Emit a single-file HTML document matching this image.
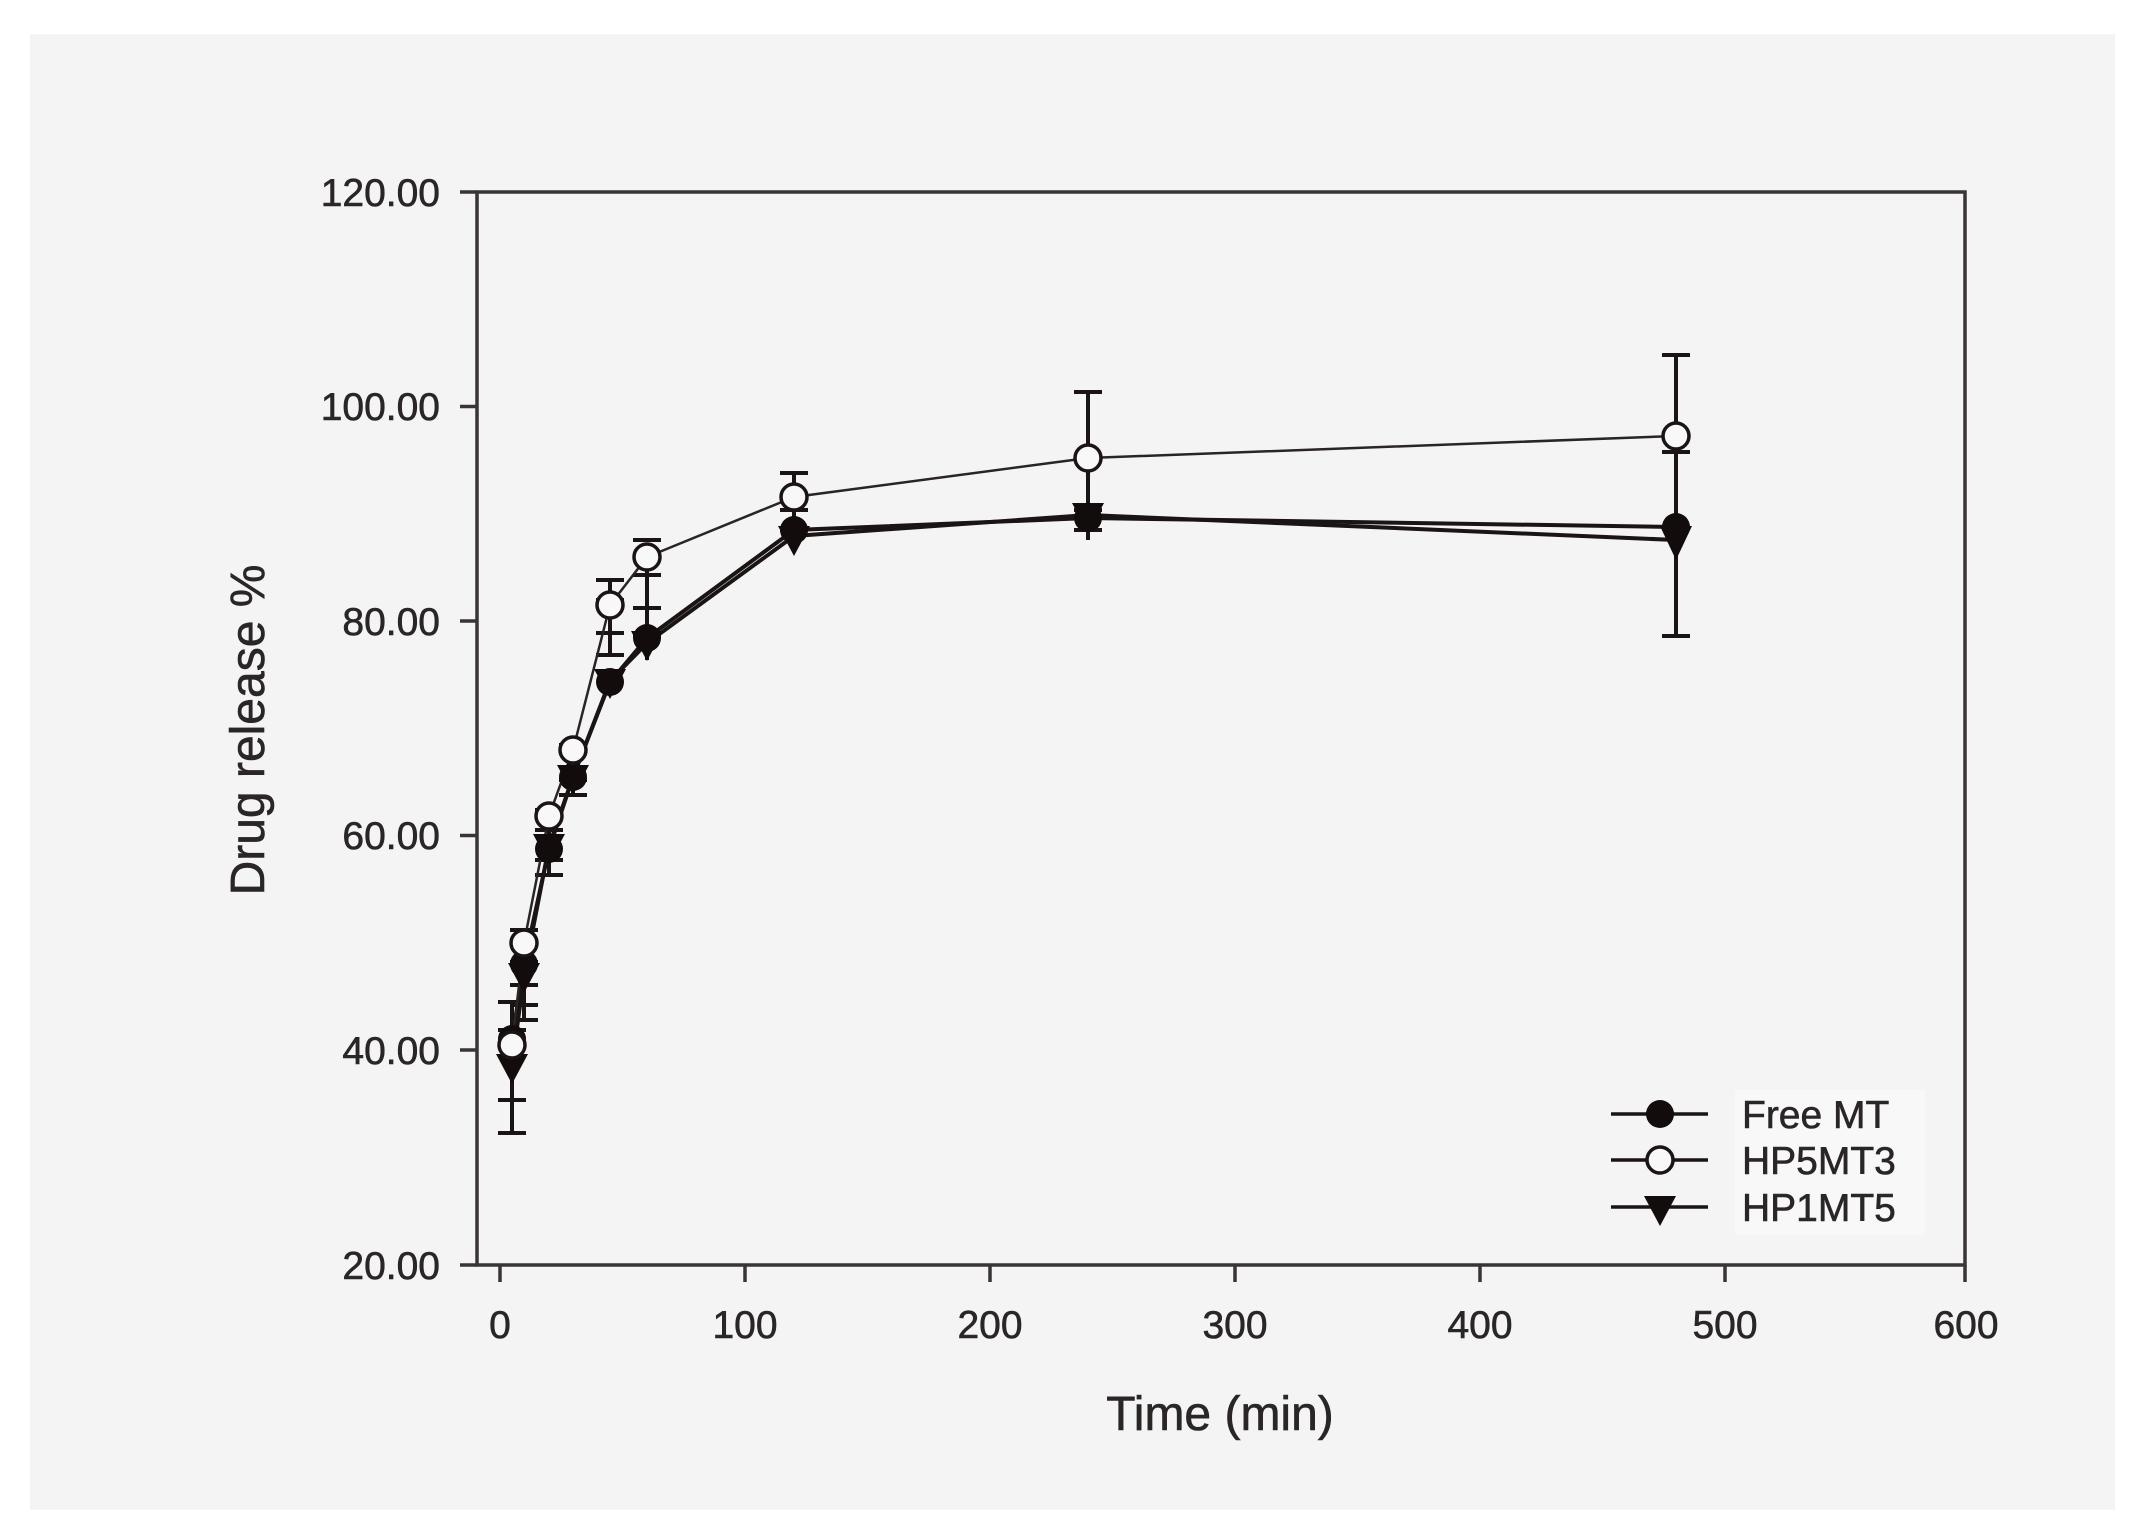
<!DOCTYPE html>
<html><head><meta charset="utf-8"><style>
html,body{margin:0;padding:0;background:#fff;}
svg{display:block;}
text{font-family:"Liberation Sans",sans-serif;fill:#2a2626;stroke:#2a2626;stroke-width:0.6;}
</style></head><body>
<svg width="2146" height="1533" viewBox="0 0 2146 1533" xmlns="http://www.w3.org/2000/svg">
<rect x="0" y="0" width="2146" height="1533" fill="#ffffff"/>
<rect x="30" y="34" width="2085" height="1476" fill="#f4f4f4"/>
<g stroke="#3a3535" stroke-width="3.5" fill="none">
<rect x="477" y="192" width="1488" height="1073"/>
<line x1="460" y1="192" x2="477" y2="192"/>
<line x1="460" y1="406.5" x2="477" y2="406.5"/>
<line x1="460" y1="621" x2="477" y2="621"/>
<line x1="460" y1="835.5" x2="477" y2="835.5"/>
<line x1="460" y1="1050" x2="477" y2="1050"/>
<line x1="460" y1="1265" x2="477" y2="1265"/>
<line x1="500" y1="1265" x2="500" y2="1282"/>
<line x1="745" y1="1265" x2="745" y2="1282"/>
<line x1="990" y1="1265" x2="990" y2="1282"/>
<line x1="1235" y1="1265" x2="1235" y2="1282"/>
<line x1="1480" y1="1265" x2="1480" y2="1282"/>
<line x1="1725" y1="1265" x2="1725" y2="1282"/>
<line x1="1965" y1="1265" x2="1965" y2="1282"/>
</g>
<g font-size="39" text-anchor="end">
<text x="440" y="206">120.00</text>
<text x="440" y="420">100.00</text>
<text x="440" y="635">80.00</text>
<text x="440" y="849">60.00</text>
<text x="440" y="1064">40.00</text>
<text x="440" y="1279">20.00</text>
</g>
<g font-size="39" text-anchor="middle">
<text x="500" y="1338">0</text>
<text x="745" y="1338">100</text>
<text x="990" y="1338">200</text>
<text x="1235" y="1338">300</text>
<text x="1480" y="1338">400</text>
<text x="1725" y="1338">500</text>
<text x="1966" y="1338">600</text>
</g>
<text x="1220" y="1430" font-size="48" text-anchor="middle">Time (min)</text>
<text transform="translate(264,730) rotate(-90)" font-size="48" text-anchor="middle">Drug release %</text>

<g stroke="#1a1414" stroke-width="4">
<line x1="512" y1="1075" x2="512" y2="1133"/><line x1="498" y1="1133" x2="526" y2="1133"/><line x1="498" y1="1100" x2="526" y2="1100"/>
<line x1="512" y1="1002" x2="512" y2="1070"/><line x1="498" y1="1002" x2="526" y2="1002"/><line x1="498" y1="1030" x2="526" y2="1030"/>
<line x1="524" y1="940" x2="524" y2="1020"/><line x1="510" y1="940" x2="538" y2="940"/><line x1="510" y1="1020" x2="538" y2="1020"/>
<line x1="510" y1="962" x2="538" y2="962"/><line x1="510" y1="985" x2="538" y2="985"/><line x1="510" y1="1005" x2="538" y2="1005"/><line x1="510" y1="930" x2="538" y2="930"/>
<line x1="549" y1="810" x2="549" y2="875"/><line x1="535" y1="810" x2="563" y2="810"/><line x1="535" y1="875" x2="563" y2="875"/><line x1="535" y1="860" x2="563" y2="860"/><line x1="535" y1="830" x2="563" y2="830"/>
<line x1="573" y1="745" x2="573" y2="795"/><line x1="559" y1="745" x2="587" y2="745"/><line x1="559" y1="795" x2="587" y2="795"/><line x1="559" y1="780" x2="587" y2="780"/>
<line x1="610" y1="580" x2="610" y2="655"/><line x1="596" y1="580" x2="624" y2="580"/><line x1="596" y1="655" x2="624" y2="655"/><line x1="596" y1="600" x2="624" y2="600"/><line x1="596" y1="633" x2="624" y2="633"/>
<line x1="647" y1="570" x2="647" y2="660"/><line x1="633" y1="540" x2="661" y2="540"/><line x1="633" y1="575" x2="661" y2="575"/><line x1="633" y1="608" x2="661" y2="608"/><line x1="633" y1="635" x2="661" y2="635"/>
<line x1="794" y1="473" x2="794" y2="530"/><line x1="780" y1="473" x2="808" y2="473"/><line x1="780" y1="510" x2="808" y2="510"/><line x1="780" y1="530" x2="808" y2="530"/>
<line x1="1088" y1="392" x2="1088" y2="540"/><line x1="1074" y1="392" x2="1102" y2="392"/><line x1="1074" y1="510" x2="1102" y2="510"/><line x1="1074" y1="530" x2="1102" y2="530"/>
<line x1="1676" y1="355" x2="1676" y2="636"/><line x1="1662" y1="355" x2="1690" y2="355"/><line x1="1662" y1="452" x2="1690" y2="452"/><line x1="1662" y1="636" x2="1690" y2="636"/>
</g>

<g fill="none" stroke="#1a1414" stroke-width="4">
<polyline points="512,1039 524,964 549,849 573,777 610,682 647,638 794,530 1088,518 1676,527"/>
<polyline stroke-width="2.5" stroke="#2a2424" points="512,1045 524,943 549,816 573,750 610,605 647,557 794,497 1088,458 1676,436"/>
<polyline points="512,1066 524,975 549,846 573,777 610,681 647,643 794,536 1088,515 1676,540"/>
</g>
<g fill="#120c0c">
<circle cx="512" cy="1039" r="14"/><circle cx="524" cy="964" r="14"/><circle cx="549" cy="849" r="14"/><circle cx="573" cy="777" r="14"/><circle cx="610" cy="682" r="14"/><circle cx="647" cy="638" r="14"/><circle cx="794" cy="530" r="14"/><circle cx="1088" cy="518" r="14"/><circle cx="1676" cy="527" r="14"/>
</g>
<g fill="#120c0c">
<polygon points="496,1054 528,1054 512,1084"/><polygon points="508,963 540,963 524,993"/><polygon points="533,834 565,834 549,864"/><polygon points="557,765 589,765 573,795"/><polygon points="594,669 626,669 610,699"/><polygon points="631,631 663,631 647,661"/><polygon points="778,526 810,526 794,556"/><polygon points="1072,503 1104,503 1088,533"/><polygon points="1660,526 1692,526 1676,560"/>
</g>
<g fill="#f8f8f8" stroke="#1a1414" stroke-width="3.5">
<circle cx="512" cy="1045" r="13"/><circle cx="524" cy="943" r="13"/><circle cx="549" cy="816" r="13"/><circle cx="573" cy="750" r="13"/><circle cx="610" cy="605" r="13"/><circle cx="647" cy="557" r="13"/><circle cx="794" cy="497" r="13"/><circle cx="1088" cy="458" r="13"/><circle cx="1676" cy="436" r="13"/>
</g>

<rect x="1735" y="1090" width="190" height="145" fill="#f8f8f8"/>
<g stroke="#1a1414" stroke-width="3.5">
<line x1="1611" y1="1114" x2="1708" y2="1114"/>
<line x1="1611" y1="1160" x2="1708" y2="1160"/>
<line x1="1611" y1="1207" x2="1708" y2="1207"/>
</g>
<circle cx="1660" cy="1114" r="14" fill="#120c0c"/>
<circle cx="1660" cy="1160" r="13" fill="#f8f8f8" stroke="#1a1414" stroke-width="3.5"/>
<polygon points="1644,1196 1676,1196 1660,1226" fill="#120c0c"/>
<g font-size="39">
<text x="1742" y="1128">Free MT</text>
<text x="1742" y="1174">HP5MT3</text>
<text x="1742" y="1221">HP1MT5</text>
</g>
</svg>
</body></html>
